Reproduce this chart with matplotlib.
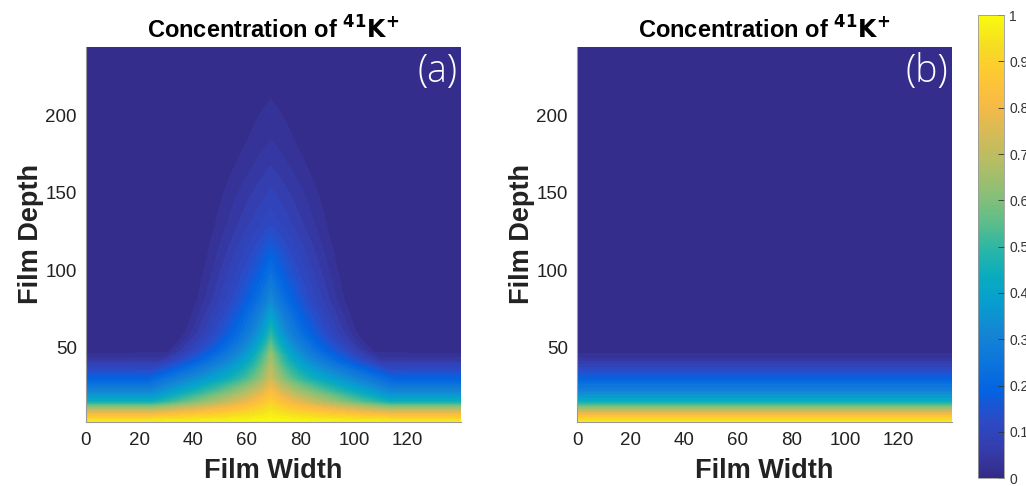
import matplotlib.pyplot as plt
import numpy as np
from matplotlib.colors import LinearSegmentedColormap

plt.rcParams['font.family'] = ['Liberation Sans', 'DejaVu Sans']

# far-field (edges of panel a, all of panel b) concentration against film depth
depth_knots = [0, 3, 6, 12, 15, 22, 29, 36, 42, 48, 55, 250]
far_conc = [1.0, 0.95, 0.85, 0.6, 0.45, 0.3, 0.2, 0.12, 0.05, 0.01, 0.0, 0.0]
# broad plume in panel a: strength and half-width against depth
plume_depth = [0, 16, 30, 45, 60, 81, 100, 120, 150, 167, 184, 210, 230, 250]
plume_amp = [0.8, 0.72, 0.45, 0.38, 0.28, 0.2, 0.165, 0.13, 0.085, 0.06, 0.04, 0.02, 0.0, 0.0]
plume_width = [46, 44, 46, 40, 34, 30, 28, 26, 23, 20, 17, 14, 12, 12]
# narrow cusp on the centre line of panel a
spike_depth = [0, 16, 30, 45, 60, 81, 100, 130, 250]
spike_amp = [0.05, 0.08, 0.22, 0.25, 0.2, 0.12, 0.06, 0.0, 0.0]
spike_width = 7
peak_x = 69

x_ticks = [0, 20, 40, 60, 80, 100, 120]
y_ticks = [50, 100, 150, 200]
cbar_ticks = [0, 0.1, 0.2, 0.3, 0.4, 0.5, 0.6, 0.7, 0.8, 0.9, 1]

# parula-like colormap
parula = LinearSegmentedColormap.from_list('parula', [
    (0.2081, 0.1663, 0.5292), (0.2081, 0.2386, 0.6771), (0.1707, 0.2919, 0.7792),
    (0.0117, 0.3875, 0.8820), (0.0498, 0.4586, 0.8641), (0.0793, 0.5200, 0.8312),
    (0.0265, 0.6137, 0.8135), (0.0384, 0.6743, 0.7436), (0.1801, 0.7177, 0.6424),
    (0.3952, 0.7459, 0.5244), (0.5709, 0.7485, 0.4494), (0.7184, 0.7411, 0.3905),
    (0.8507, 0.7299, 0.3360), (0.9739, 0.7314, 0.2666), (0.9955, 0.7861, 0.1967),
    (0.9626, 0.8705, 0.1309), (0.9763, 0.9831, 0.0538)])

x = np.linspace(0, 140, 500)
d = np.linspace(1, 245, 600)
X, D = np.meshgrid(x, d)
U = np.abs(X - peak_x)
far = np.interp(D, depth_knots, far_conc)
p_amp = np.interp(D, plume_depth, plume_amp)
p_wid = np.interp(D, plume_depth, plume_width)
s_amp = np.interp(D, spike_depth, spike_amp)
extra = p_amp * np.clip(1 - U / p_wid, 0, None) + s_amp * np.exp(-U / spike_width)
field_a = np.clip(far + (1 - far) * extra, 0, 1)
field_b = far

levels = np.linspace(0, 1, 51)
fig = plt.figure(figsize=(10.26, 4.86), dpi=100)
ax_a = fig.add_axes([0.0838, 0.1317, 0.3655, 0.7716])
ax_b = fig.add_axes([0.5624, 0.1317, 0.3655, 0.7716])

for ax, field, tag in [(ax_a, field_a, '(a)'), (ax_b, field_b, '(b)')]:
    ax.contourf(X, D, field, levels=levels, cmap=parula, vmin=0, vmax=1, antialiased=False)
    ax.set_xlim(0, 140)
    ax.set_ylim(2, 244)
    ax.set_xticks(x_ticks)
    ax.set_yticks(y_ticks)
    ax.tick_params(length=0, labelsize=13.5, colors='#222222')
    ax.tick_params(axis='x', pad=7.5)
    ax.tick_params(axis='y', pad=6.5)
    for s in ax.spines.values():
        s.set_visible(False)
    for side in ('bottom', 'left'):
        ax.spines[side].set_visible(True)
        ax.spines[side].set_color('#999999')
        ax.spines[side].set_linewidth(0.8)
    ax.set_title('Concentration of $\\mathbf{^{41}K^{+}}$', fontsize=17, fontweight='bold', pad=6)
    ax.set_xlabel('Film Width', fontsize=19.5, fontweight='bold', labelpad=6, color='#222222')
    ax.set_ylabel('Film Depth', fontsize=19.5, fontweight='bold', labelpad=1, color='#222222')
    ax.text(0.99, 0.985, tag, transform=ax.transAxes, ha='right', va='top',
            fontsize=27, color='white', fontweight='light', family=['Open Sans', 'DejaVu Sans'])

cax = fig.add_axes([0.953, 0.016, 0.026, 0.953])
sm = plt.cm.ScalarMappable(cmap=parula, norm=plt.Normalize(0, 1))
cb = fig.colorbar(sm, cax=cax, ticks=cbar_ticks)
cb.ax.set_yticklabels([str(t) if t in (0, 1) else f'{t:.1f}' for t in cbar_ticks])
cb.ax.tick_params(labelsize=10, direction='in', length=4, colors='#333333', width=0.6)
cb.outline.set_edgecolor('#999999')
cb.outline.set_linewidth(0.6)

fig.savefig('out.png', dpi=100)
